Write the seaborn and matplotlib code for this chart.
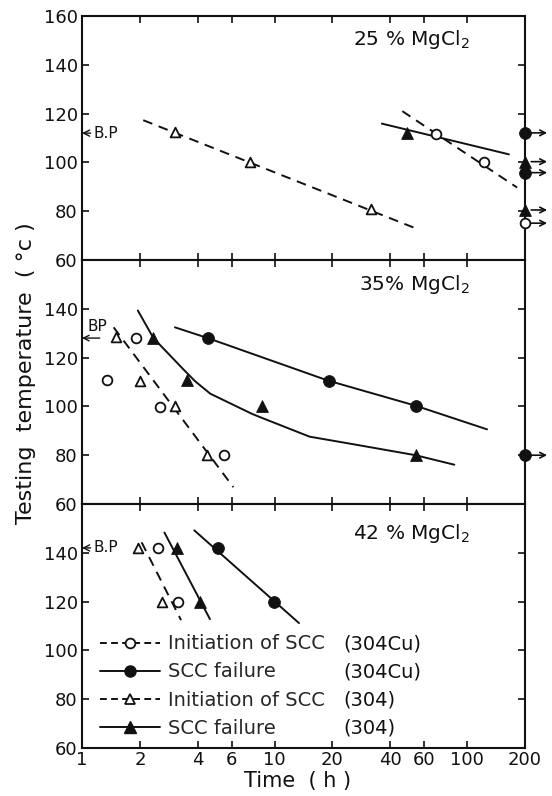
import numpy as np
import pandas as pd
import matplotlib
matplotlib.use("Agg")
import matplotlib.pyplot as plt
import seaborn as sns
from matplotlib.lines import Line2D

# ---------------- data (time in h, temperature in degC) ----------------
x_ticks = [1, 2, 4, 6, 10, 20, 40, 60, 100, 200]
x_tick_labels = ["1", "2", "4", "6", "10", "20", "40", "60", "100", "200"]
y_ticks = [60, 80, 100, 120, 140, 160]
runout_time = 200

panel_titles = ["25 % MgCl$_2$", "35% MgCl$_2$", "42 % MgCl$_2$"]
boiling_points = [112, 128, 142]

# 25 % MgCl2
p25_init304_t = [3.04, 7.45, 31.8]
p25_init304_T = [112.5, 100, 80.8]
p25_init304_fit_t = [2.08, 52.8]
p25_init304_fit_T = [117.3, 73.3]
p25_fail304_t = [49]
p25_fail304_T = [112.1]
p25_fail304_fit_t = [36.1, 165]
p25_fail304_fit_T = [115.9, 103.3]
p25_initCu_t = [68.7, 122]
p25_initCu_T = [111.8, 100]
p25_initCu_fit_t = [46.1, 182]
p25_initCu_fit_T = [121, 89.7]
p25_runout_failCu_T = [112.1, 95.8]
p25_runout_fail304_T = [100.3, 80.5]
p25_runout_initCu_T = [75.1]

# 35 % MgCl2
p35_initCu_t = [1.35, 1.91, 2.54, 5.47]
p35_initCu_T = [110.8, 128, 99.9, 80]
p35_init304_t = [1.50, 2.0, 3.04, 4.48]
p35_init304_T = [128.3, 110.3, 100, 80]
p35_init304_fit_t = [1.46, 6.11]
p35_init304_fit_T = [132.4, 66.9]
p35_fail304_t = [2.35, 3.50, 8.58, 54]
p35_fail304_T = [128, 110.9, 100, 80]
p35_fail304_fit_t = [1.95, 2.35, 3.36, 3.87, 4.64, 7.61, 8.41, 15.2, 25.2, 54, 85.9]
p35_fail304_fit_T = [139.3, 128, 115.2, 110.3, 105.2, 97, 95.6, 87.6, 84.6, 80, 76.1]
p35_failCu_t = [4.5, 19.1, 54]
p35_failCu_T = [128, 110.5, 100.3]
p35_failCu_fit_t = [3.04, 4.5, 19.1, 54, 127]
p35_failCu_fit_T = [132.4, 128, 110.5, 100.3, 90.6]
p35_runout_failCu_T = [80]

# 42 % MgCl2
p42_init304_t = [1.96, 2.61]
p42_init304_T = [142, 120]
p42_initCu_t = [2.47, 3.17]
p42_initCu_T = [142, 120]
p42_init_fit_t = [2.04, 3.27]
p42_init_fit_T = [144.3, 112.4]
p42_fail304_t = [3.10, 4.10]
p42_fail304_T = [142, 120]
p42_fail304_fit_t = [2.68, 4.62]
p42_fail304_fit_T = [148.3, 112.8]
p42_failCu_t = [5.11, 9.98]
p42_failCu_T = [142, 120]
p42_failCu_fit_t = [3.83, 13.4]
p42_failCu_fit_T = [149.2, 111.2]

legend_labels = ["Initiation of SCC", "SCC failure", "Initiation of SCC", "SCC failure"]
legend_materials = ["(304Cu)", "(304Cu)", "(304)", "(304)"]

# ---------------- style ----------------
sns.set_style("ticks")
plt.rcParams['font.family'] = ['DejaVu Sans']
plt.rcParams['mathtext.fontset'] = 'dejavusans'
INK = '#111111'
DASH = (0, (5, 3.5))

fig = plt.figure(figsize=(5.52, 7.96), dpi=100)
L, W, H = 82 / 552, 443 / 552, 244 / 796
axes = [fig.add_axes([L, 1 - (16 + 244 * (i + 1)) / 796, W, H]) for i in range(3)]


def fit_line(ax, t, T, dashed):
    df = pd.DataFrame({"t": t, "T": T})
    sns.lineplot(data=df, x="t", y="T", ax=ax, color=INK, lw=1.4,
                 linestyle=DASH if dashed else '-', sort=False,
                 estimator=None, legend=False, zorder=2)


def points(ax, t, T, marker, filled, clip=True):
    df = pd.DataFrame({"t": t, "T": T})
    size = 8.5 if filled else 7
    sns.scatterplot(data=df, x="t", y="T", ax=ax, marker=marker, s=size ** 2,
                    color=INK if filled else 'white', edgecolor=INK,
                    linewidth=0.6 if filled else 1.3, zorder=3,
                    clip_on=clip, legend=False)


def runouts(ax, T, marker, filled):
    points(ax, [runout_time] * len(T), T, marker, filled, clip=False)
    tr = ax.get_yaxis_transform()
    for v in T:
        ax.annotate('', xy=(1.05, v), xytext=(1.014, v), xycoords=tr, textcoords=tr,
                    arrowprops=dict(arrowstyle='->', lw=1.2, color=INK,
                                    shrinkA=0, shrinkB=0),
                    annotation_clip=False)


ax1, ax2, ax3 = axes

# 25 %
fit_line(ax1, p25_init304_fit_t, p25_init304_fit_T, True)
fit_line(ax1, p25_fail304_fit_t, p25_fail304_fit_T, False)
fit_line(ax1, p25_initCu_fit_t, p25_initCu_fit_T, True)
points(ax1, p25_init304_t, p25_init304_T, '^', False)
points(ax1, p25_fail304_t, p25_fail304_T, '^', True)
points(ax1, p25_initCu_t, p25_initCu_T, 'o', False)
runouts(ax1, p25_runout_failCu_T, 'o', True)
runouts(ax1, p25_runout_fail304_T, '^', True)
runouts(ax1, p25_runout_initCu_T, 'o', False)

# 35 %
fit_line(ax2, p35_init304_fit_t, p35_init304_fit_T, True)
fit_line(ax2, p35_fail304_fit_t, p35_fail304_fit_T, False)
fit_line(ax2, p35_failCu_fit_t, p35_failCu_fit_T, False)
points(ax2, p35_initCu_t, p35_initCu_T, 'o', False)
points(ax2, p35_init304_t, p35_init304_T, '^', False)
points(ax2, p35_fail304_t, p35_fail304_T, '^', True)
points(ax2, p35_failCu_t, p35_failCu_T, 'o', True)
runouts(ax2, p35_runout_failCu_T, 'o', True)

# 42 %
fit_line(ax3, p42_init_fit_t, p42_init_fit_T, True)
fit_line(ax3, p42_fail304_fit_t, p42_fail304_fit_T, False)
fit_line(ax3, p42_failCu_fit_t, p42_failCu_fit_T, False)
points(ax3, p42_init304_t, p42_init304_T, '^', False)
points(ax3, p42_initCu_t, p42_initCu_T, 'o', False)
points(ax3, p42_fail304_t, p42_fail304_T, '^', True)
points(ax3, p42_failCu_t, p42_failCu_T, 'o', True)

title_y = [0.905, 0.898, 0.88]
for i, ax in enumerate(axes):
    ax.set_xscale('log')
    ax.set_xlim(x_ticks[0], x_ticks[-1])
    ax.set_ylim(y_ticks[0], y_ticks[-1])
    ax.set_xticks(x_ticks)
    ax.set_xticklabels(x_tick_labels)
    ax.minorticks_off()
    ax.set_yticks(y_ticks)
    ax.set_yticklabels([str(v) if (i == 0 or v < 160) else '' for v in y_ticks])
    ax.tick_params(direction='in', top=True, right=True, length=5, width=1.2,
                   labelsize=13, pad=3, colors=INK)
    ax.tick_params(axis='x', pad=2)
    if i < 2:
        ax.tick_params(axis='x', labelbottom=False)
    for sp in ax.spines.values():
        sp.set_linewidth(1.5)
        sp.set_color(INK)
        sp.set_visible(True)
    ax.set_xlabel('')
    ax.set_ylabel('')
    ax.text(0.875, title_y[i], panel_titles[i], transform=ax.transAxes,
            ha='right', va='center', fontsize=14.5, color=INK)

# boiling point markers
tr1 = ax1.get_yaxis_transform()
ax1.annotate('B.P', xy=(0, boiling_points[0]), xytext=(0.027, boiling_points[0]),
             xycoords=tr1, textcoords=tr1, ha='left', va='center', fontsize=11,
             color=INK, arrowprops=dict(arrowstyle='->', lw=1, color=INK,
                                        shrinkA=0, shrinkB=0))
tr2 = ax2.get_yaxis_transform()
ax2.text(0.012, boiling_points[1] + 4.8, 'BP', transform=tr2, ha='left',
         va='center', fontsize=11, color=INK)
ax2.annotate('', xy=(0, boiling_points[1]), xytext=(0.04, boiling_points[1]),
             xycoords=tr2, textcoords=tr2,
             arrowprops=dict(arrowstyle='->', lw=1, color=INK, shrinkA=0, shrinkB=0))
tr3 = ax3.get_yaxis_transform()
ax3.annotate('B.P', xy=(0, boiling_points[2]), xytext=(0.027, boiling_points[2]),
             xycoords=tr3, textcoords=tr3, ha='left', va='center', fontsize=11,
             color=INK, arrowprops=dict(arrowstyle='->', lw=1, color=INK,
                                        shrinkA=0, shrinkB=0))

# legend
LDASH = (0, (3.5, 2.2))
handles = [
    Line2D([], [], color=INK, lw=1.4, ls=LDASH, marker='o', mfc='white', mec=INK, ms=7, mew=1.3),
    Line2D([], [], color=INK, lw=1.4, ls='-', marker='o', mfc=INK, mec=INK, ms=8),
    Line2D([], [], color=INK, lw=1.4, ls=LDASH, marker='^', mfc='white', mec=INK, ms=7, mew=1.3),
    Line2D([], [], color=INK, lw=1.4, ls='-', marker='^', mfc=INK, mec=INK, ms=8),
]
leg = ax3.legend(handles, legend_labels, loc='lower left', bbox_to_anchor=(0.04, 0.042),
                 frameon=False, fontsize=14, handlelength=3.1, handletextpad=0.4,
                 labelspacing=0.47, borderpad=0, borderaxespad=0)
fig.canvas.draw()
inv = ax3.transAxes.inverted()
for txt, mat in zip(leg.get_texts(), legend_materials):
    bb = txt.get_window_extent()
    yc = inv.transform((0, (bb.y0 + bb.y1) / 2))[1]
    ax3.text(0.589, yc, mat, transform=ax3.transAxes, ha='left', va='center',
             fontsize=14, color=INK)

fig.text(0.047, 0.531, 'Testing  temperature  ( °c )', rotation=90, ha='center',
         va='center', fontsize=16, color=INK)
fig.text(L + W / 2 - 0.01, 1 - 781 / 796, 'Time  ( h )', ha='center', va='center',
         fontsize=15, color=INK)

fig.savefig('out.png', dpi=100)
